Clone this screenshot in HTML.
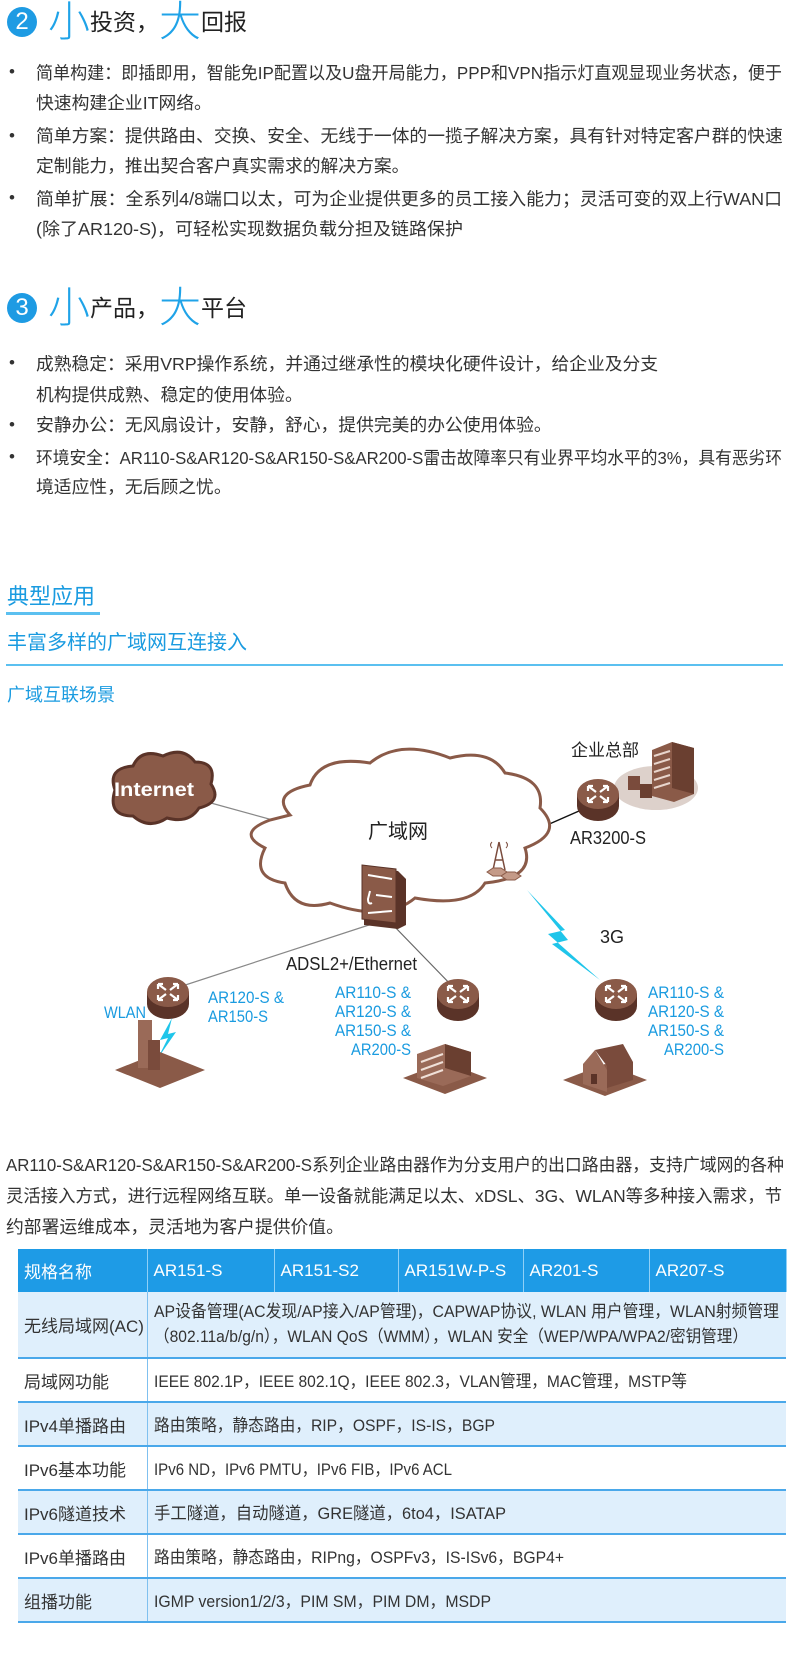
<!DOCTYPE html>
<html><head><meta charset="utf-8">
<style>
*{margin:0;padding:0;box-sizing:border-box}
body{width:790px;height:1657px;background:#fff;position:relative;overflow:hidden;font-family:"Liberation Sans","Noto Sans CJK SC",sans-serif;color:#333}
.a{position:absolute;white-space:nowrap}
.t{font-size:17.8px;line-height:20px}
svg.ln{position:absolute;overflow:visible}
svg.ln text{font-size:17.8px;fill:#333;font-family:"Liberation Sans","Noto Sans CJK SC",sans-serif}
.dot{position:absolute;left:9px;font-size:17px;line-height:20px}
.num{position:absolute;width:30px;height:30px;border-radius:50%;background:#1e9be3;color:#fff;font-size:24px;line-height:30px;text-align:center}
.hrow{position:absolute;display:flex;align-items:center;height:44px;white-space:nowrap}
.big{color:#1fa3e8;font-size:42px;font-weight:300;line-height:44px}
.hd{font-size:23px;color:#222;line-height:44px}
table{position:absolute;left:18px;top:1249px;width:768px;border-collapse:collapse;font-size:17px;table-layout:fixed}
td{height:44px;padding:0 6px;border-bottom:2px solid #4aa8ea;vertical-align:middle;white-space:nowrap;position:relative;overflow:visible}
td:first-child{border-right:1px solid #7fc0ef}
tr.h td{background:#1e9be6;color:#fff;border-bottom:none;border-right:1px solid #8fd0f7;height:43px}
tr.l td{background:#dfeffc}
td svg{position:absolute;left:6px;overflow:visible}
td svg text{font-size:17px;fill:#333;font-family:"Liberation Sans","Noto Sans CJK SC",sans-serif}
</style></head><body>

<div class="num" style="left:7px;top:7px">2</div>
<div class="hrow" style="left:48px;top:0px"><span class="big">小</span><span class="hd">投资，</span><span class="big">大</span><span class="hd">回报</span></div>

<div class="dot" style="top:62px">•</div>
<svg class="ln" style="left:36px;top:62px" width="746" height="22"><text x="0" y="17" textLength="746" lengthAdjust="spacingAndGlyphs">简单构建：即插即用，智能免IP配置以及U盘开局能力，PPP和VPN指示灯直观显现业务状态，便于</text></svg>
<div class="a t" style="left:36px;top:93px">快速构建企业IT网络。</div>
<div class="dot" style="top:126px">•</div>
<div class="a t" style="left:36px;top:126px">简单方案：提供路由、交换、安全、无线于一体的一揽子解决方案，具有针对特定客户群的快速</div>
<div class="a t" style="left:36px;top:156px">定制能力，推出契合客户真实需求的解决方案。</div>
<div class="dot" style="top:188px">•</div>
<svg class="ln" style="left:36px;top:188px" width="746" height="22"><text x="0" y="17" textLength="746" lengthAdjust="spacingAndGlyphs">简单扩展：全系列4/8端口以太，可为企业提供更多的员工接入能力；灵活可变的双上行WAN口</text></svg>
<svg class="ln" style="left:36px;top:218px" width="427" height="22"><text x="0" y="17" textLength="427" lengthAdjust="spacingAndGlyphs">(除了AR120-S)，可轻松实现数据负载分担及链路保护</text></svg>

<div class="num" style="left:7px;top:293px">3</div>
<div class="hrow" style="left:48px;top:286px"><span class="big">小</span><span class="hd">产品，</span><span class="big">大</span><span class="hd">平台</span></div>

<div class="dot" style="top:353px">•</div>
<svg class="ln" style="left:36px;top:353px" width="622" height="22"><text x="0" y="17" textLength="622" lengthAdjust="spacingAndGlyphs">成熟稳定：采用VRP操作系统，并通过继承性的模块化硬件设计，给企业及分支</text></svg>
<div class="a t" style="left:36px;top:385px">机构提供成熟、稳定的使用体验。</div>
<div class="dot" style="top:415px">•</div>
<div class="a t" style="left:36px;top:415px">安静办公：无风扇设计，安静，舒心，提供完美的办公使用体验。</div>
<div class="dot" style="top:447px">•</div>
<svg class="ln" style="left:36px;top:447px" width="746" height="22"><text x="0" y="17" textLength="746" lengthAdjust="spacingAndGlyphs">环境安全：AR110-S&amp;AR120-S&amp;AR150-S&amp;AR200-S雷击故障率只有业界平均水平的3%，具有恶劣环</text></svg>
<div class="a t" style="left:36px;top:477px">境适应性，无后顾之忧。</div>

<div class="a" style="left:7px;top:583px;font-size:22px;line-height:28px;color:#1a9be0">典型应用</div>
<div class="a" style="left:6px;top:612px;width:94px;height:3px;background:#5bc0f0"></div>
<div class="a" style="left:7px;top:630px;font-size:20px;line-height:26px;color:#1a9be0">丰富多样的广域网互连接入</div>
<div class="a" style="left:6px;top:664px;width:777px;height:2px;background:#5bc0f0"></div>
<div class="a" style="left:7px;top:683px;font-size:18px;line-height:24px;color:#1a9be0">广域互联场景</div>

<svg class="a" style="left:0;top:0" width="790" height="1100" viewBox="0 0 790 1100">
 <defs>
  <g id="rt">
   <ellipse cx="0" cy="8" rx="21" ry="15" fill="#5a3328"/>
   <rect x="-21" y="-4" width="42" height="12" fill="#5a3328"/>
   <ellipse cx="0" cy="-4" rx="21" ry="15" fill="#8a5a48"/>
   <path d="M-10 -12 L-2 -6 M-10 -12 l0 5 M-10 -12 l5 0 M10 4 L2 -2 M10 4 l0 -5 M10 4 l-5 0 M10 -12 L2 -6 M10 -12 l-5 0 M10 -12 l0 5 M-10 4 L-2 -2 M-10 4 l5 0 M-10 4 l0 -5" stroke="#fff" stroke-width="2.2" fill="none"/>
  </g>
 </defs>
 <line x1="200" y1="800" x2="280" y2="822" stroke="#888" stroke-width="1.2"/>
 <line x1="579" y1="811" x2="522" y2="836" stroke="#111" stroke-width="1.5"/>
 <line x1="372" y1="924" x2="170" y2="990" stroke="#888" stroke-width="1.2"/>
 <line x1="392" y1="924" x2="456" y2="990" stroke="#666" stroke-width="1.2"/>
 <path d="M115 790 q-8 -22 18 -24 q8 -18 30 -10 q20 -10 32 6 q22 0 16 22 q12 18 -12 24 q-10 16 -32 10 q-18 12 -34 -2 q-26 0 -18 -26z" fill="#8a5a48" stroke="#5a3328" stroke-width="3"/>
 <text x="154" y="796" font-size="19" font-weight="bold" fill="#fff" text-anchor="middle" textLength="80" lengthAdjust="spacingAndGlyphs">Internet</text>
 <path d="M290 815 q-20 -22 20 -30 q10 -30 60 -22 q30 -25 80 -5 q40 -10 55 15 q40 5 35 35 q25 25 -15 40 q10 30 -40 35 q-15 25 -70 15 q-30 25 -85 5 q-35 10 -45 -20 q-35 -5 -20 -35 q-30 -15 5 -28z" fill="#fff" stroke="#8a5a48" stroke-width="3"/>
 <text x="398" y="838" font-size="20" fill="#222" text-anchor="middle">广域网</text>
 <g transform="translate(499 856)" stroke="#7a4b3c" fill="none" stroke-width="1.5">
  <path d="M0 -14 L-6 14 M0 -14 L6 14 M-4 4 L4 4"/>
  <path d="M-7 -14 q-3 3 0 6 M7 -14 q3 3 0 6" stroke-width="1"/>
  <path d="M-12 16 l6 -4 l8 0 l6 4 l-6 4 l-8 0z M2 20 l6 -4 l8 0 l6 4 l-6 4 l-8 0z" fill="#c49a88" stroke="#8a5a48" stroke-width="1"/>
 </g>
 <g transform="translate(384 895)">
  <path d="M-20 -28 l34 4 l8 8 l0 46 l-8 4 l-34 -4z" fill="#5a3328"/>
  <path d="M-22 -30 l34 4 l0 54 l-34 -4z" fill="#8a5a48" stroke="#5a3328"/>
  <path d="M-16 -20 l24 4 M-14 -4 l-2 8 q0 6 4 4 M-8 0 l16 2 M-16 18 l24 -2" stroke="#fff" stroke-width="2" fill="none"/>
 </g>
 <text x="605" y="756" font-size="17" fill="#222" text-anchor="middle">企业总部</text>
 <g transform="translate(662 780)">
  <ellipse cx="-6" cy="8" rx="42" ry="22" fill="#ddd1cb"/>
  <path d="M-10 -30 l20 -8 l22 6 l0 46 l-20 8 l-22 -6z" fill="#8a5a48"/>
  <path d="M10 -38 l22 6 l0 46 l-22 -6z" fill="#6a3f30"/>
  <path d="M-8 -24 l16 -5 M-8 -16 l16 -5 M-8 -8 l16 -5 M-8 0 l16 -5 M-8 8 l16 -5" stroke="#e8d5cc" stroke-width="2"/>
  <rect x="-34" y="-4" width="12" height="14" fill="#7a4b3c"/>
  <rect x="-22" y="4" width="12" height="14" fill="#6a3f30"/>
 </g>
 <use href="#rt" x="598" y="798"/>
 <text x="570" y="844" font-size="18" fill="#222" textLength="76" lengthAdjust="spacingAndGlyphs">AR3200-S</text>
 <path d="M527 890 L565 930 L548 934 L600 980 L552 944 L568 940z" fill="#1fc5ea"/>
 <text x="600" y="943" font-size="18" fill="#222">3G</text>
 <text x="286" y="970" font-size="18" fill="#222" textLength="131" lengthAdjust="spacingAndGlyphs">ADSL2+/Ethernet</text>
 <use href="#rt" x="168" y="996"/>
 <text x="104" y="1018" font-size="17" fill="#1a9be0" textLength="42" lengthAdjust="spacingAndGlyphs">WLAN</text>
 <text x="208" y="1003" font-size="17" fill="#1a9be0" textLength="76" lengthAdjust="spacingAndGlyphs">AR120-S &amp;</text>
 <text x="208" y="1022" font-size="17" fill="#1a9be0" textLength="60" lengthAdjust="spacingAndGlyphs">AR150-S</text>
 <path d="M172 1018 L160 1040 L168 1038 L158 1058 L176 1032 L168 1034z" fill="#1fc5ea"/>
 <g transform="translate(150 1058)">
  <path d="M-35 12 l45 -18 l45 18 l-45 18z" fill="#8a5a48"/>
  <rect x="-12" y="-38" width="14" height="48" fill="#9a6a58"/>
  <rect x="-2" y="-18" width="12" height="30" fill="#7a4b3c"/>
 </g>
 <use href="#rt" x="458" y="998"/>
 <g font-size="17" fill="#1a9be0" text-anchor="end">
  <text x="411" y="998" textLength="76" lengthAdjust="spacingAndGlyphs">AR110-S &amp;</text>
  <text x="411" y="1017" textLength="76" lengthAdjust="spacingAndGlyphs">AR120-S &amp;</text>
  <text x="411" y="1036" textLength="76" lengthAdjust="spacingAndGlyphs">AR150-S &amp;</text>
  <text x="411" y="1055" textLength="60" lengthAdjust="spacingAndGlyphs">AR200-S</text>
 </g>
 <g transform="translate(445 1068)">
  <path d="M-42 10 l42 -16 l42 16 l-42 16z" fill="#8a5a48"/>
  <path d="M-28 -14 l28 -10 l26 8 l0 24 l-28 10 l-26 -8z" fill="#9a6a58"/>
  <path d="M0 -24 l26 8 l0 24 l-26 -8z" fill="#6a3f30"/>
  <path d="M-24 -6 l22 -8 M-24 2 l22 -8 M-24 10 l22 -8" stroke="#f0e0d8" stroke-width="2"/>
 </g>
 <use href="#rt" x="616" y="998"/>
 <g font-size="17" fill="#1a9be0" text-anchor="end">
  <text x="724" y="998" textLength="76" lengthAdjust="spacingAndGlyphs">AR110-S &amp;</text>
  <text x="724" y="1017" textLength="76" lengthAdjust="spacingAndGlyphs">AR120-S &amp;</text>
  <text x="724" y="1036" textLength="76" lengthAdjust="spacingAndGlyphs">AR150-S &amp;</text>
  <text x="724" y="1055" textLength="60" lengthAdjust="spacingAndGlyphs">AR200-S</text>
 </g>
 <g transform="translate(605 1070)">
  <path d="M-42 10 l42 -16 l42 16 l-42 16z" fill="#8a5a48"/>
  <path d="M-22 -6 l0 20 l24 8 l0 -22 l-12 -20z" fill="#9a6a58"/>
  <path d="M-10 -20 l28 -6 l10 18 l0 18 l-26 8 l0 -22z" fill="#7a4b3c"/>
  <rect x="-14" y="4" width="6" height="10" fill="#5a3328"/>
 </g>
</svg>

<svg class="ln" style="left:6px;top:1154px" width="778" height="22"><text x="0" y="17" textLength="778" lengthAdjust="spacingAndGlyphs">AR110-S&amp;AR120-S&amp;AR150-S&amp;AR200-S系列企业路由器作为分支用户的出口路由器，支持广域网的各种</text></svg>
<svg class="ln" style="left:6px;top:1185px" width="776" height="22"><text x="0" y="17" textLength="776" lengthAdjust="spacingAndGlyphs">灵活接入方式，进行远程网络互联。单一设备就能满足以太、xDSL、3G、WLAN等多种接入需求，节</text></svg>
<div class="a t" style="left:6px;top:1217px">约部署运维成本，灵活地为客户提供价值。</div>

<table>
<colgroup><col style="width:129px"><col style="width:127px"><col style="width:124px"><col style="width:125px"><col style="width:126px"><col style="width:137px"></colgroup>
<tr class="h"><td>规格名称</td><td>AR151-S</td><td>AR151-S2</td><td>AR151W-P-S</td><td>AR201-S</td><td>AR207-S</td></tr>
<tr class="l"><td style="height:66px">无线局域网(AC)</td><td colspan="5"><svg style="top:10px" width="625" height="50"><text x="0" y="15" textLength="625" lengthAdjust="spacingAndGlyphs">AP设备管理(AC发现/AP接入/AP管理)，CAPWAP协议, WLAN 用户管理，WLAN射频管理</text><text x="0" y="40" textLength="594" lengthAdjust="spacingAndGlyphs">（802.11a/b/g/n），WLAN QoS（WMM），WLAN 安全（WEP/WPA/WPA2/密钥管理）</text></svg></td></tr>
<tr><td>局域网功能</td><td colspan="5"><svg style="top:11px" width="533" height="22"><text x="0" y="17" textLength="533" lengthAdjust="spacingAndGlyphs">IEEE 802.1P，IEEE 802.1Q，IEEE 802.3，VLAN管理，MAC管理，MSTP等</text></svg></td></tr>
<tr class="l"><td>IPv4单播路由</td><td colspan="5"><svg style="top:11px" width="341" height="22"><text x="0" y="17" textLength="341" lengthAdjust="spacingAndGlyphs">路由策略，静态路由，RIP，OSPF，IS-IS，BGP</text></svg></td></tr>
<tr><td>IPv6基本功能</td><td colspan="5"><svg style="top:11px" width="298" height="22"><text x="0" y="17" textLength="298" lengthAdjust="spacingAndGlyphs">IPv6 ND，IPv6 PMTU，IPv6 FIB，IPv6 ACL</text></svg></td></tr>
<tr class="l"><td>IPv6隧道技术</td><td colspan="5"><svg style="top:11px" width="352" height="22"><text x="0" y="17" textLength="352" lengthAdjust="spacingAndGlyphs">手工隧道，自动隧道，GRE隧道，6to4，ISATAP</text></svg></td></tr>
<tr><td>IPv6单播路由</td><td colspan="5"><svg style="top:11px" width="410" height="22"><text x="0" y="17" textLength="410" lengthAdjust="spacingAndGlyphs">路由策略，静态路由，RIPng，OSPFv3，IS-ISv6，BGP4+</text></svg></td></tr>
<tr class="l"><td>组播功能</td><td colspan="5"><svg style="top:11px" width="337" height="22"><text x="0" y="17" textLength="337" lengthAdjust="spacingAndGlyphs">IGMP version1/2/3，PIM SM，PIM DM，MSDP</text></svg></td></tr>
</table>
</body></html>
